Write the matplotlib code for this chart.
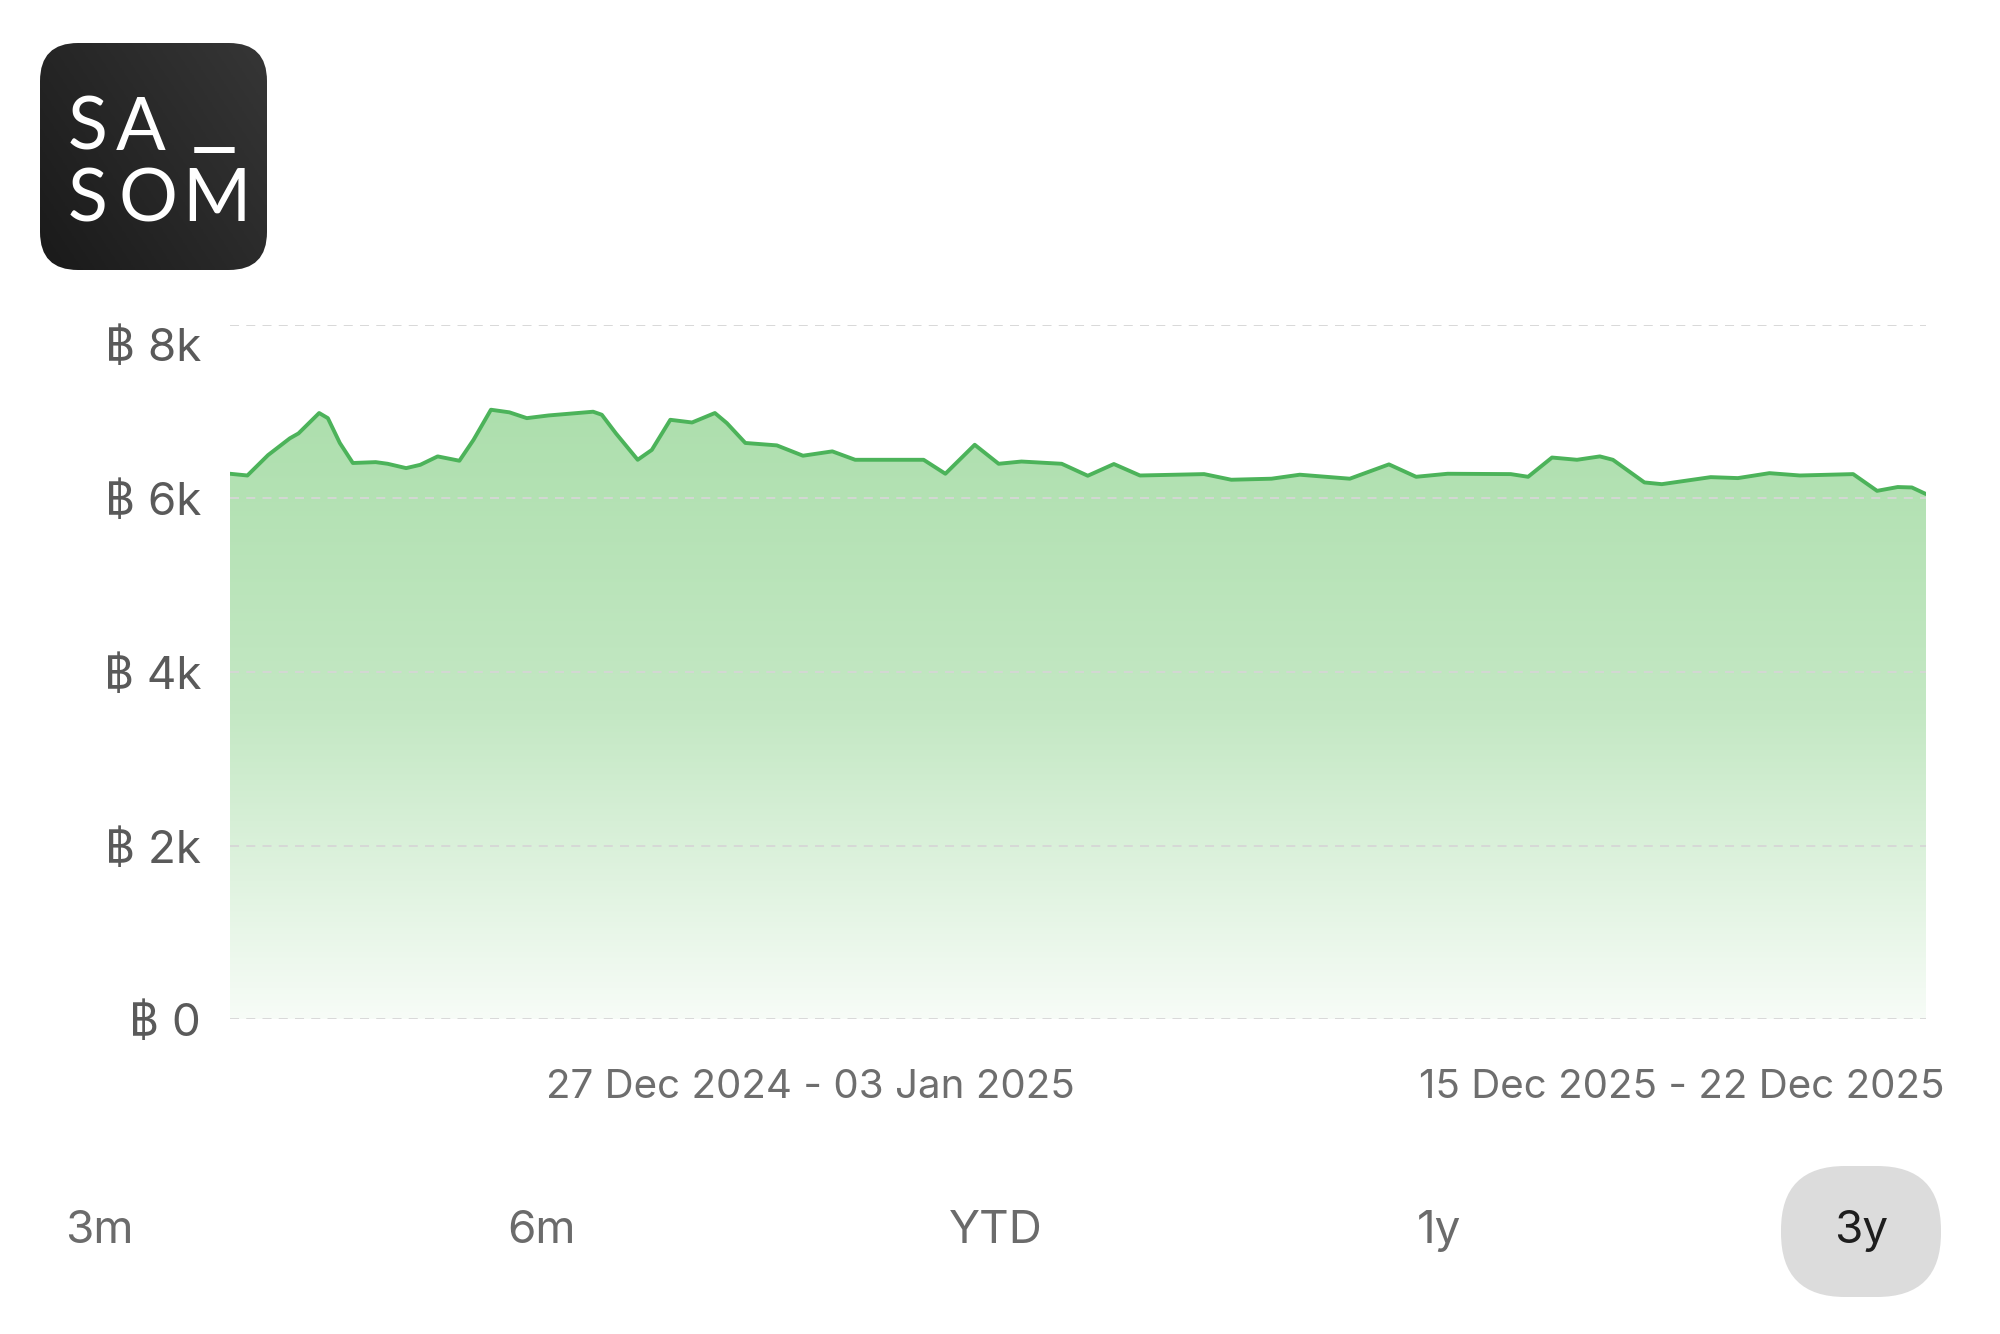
import numpy as np
import matplotlib
matplotlib.use('Agg')
import matplotlib.pyplot as plt
from matplotlib.patches import FancyBboxPatch, Polygon
from matplotlib.colors import LinearSegmentedColormap
from matplotlib.transforms import blended_transform_factory, offset_copy

plt.rcParams['font.family'] = ['Inter', 'DejaVu Sans']

# weeks since the start of the 3y window, price in baht
weeks = [0, 1.6, 3.5, 5.5, 6.3, 8.2, 9.0, 10.1, 11.3, 13.4, 14.5, 16.2, 17.5,
         19.1, 21.1, 22.4, 24.0, 25.7, 27.3, 29.3, 33.4, 34.2, 35.5, 37.5,
         38.8, 40.5, 42.5, 44.6, 45.7, 47.4, 50.3, 52.7, 55.4, 57.5, 63.8,
         65.8, 68.5, 70.7, 72.8, 76.5, 78.9, 81.3, 83.7, 89.6, 92.1, 95.8,
         98.4, 103.0, 106.6, 109.1, 112.0, 117.8, 119.4, 121.6, 123.9, 126.0,
         127.2, 130.1, 131.7, 136.2, 138.7, 141.6, 144.4, 149.3, 151.5, 153.4,
         154.7, 156]
price = [6285, 6265, 6500, 6693, 6750, 6985, 6926, 6640, 6409, 6419, 6400,
         6350, 6388, 6485, 6435, 6676, 7023, 6993, 6926, 6957, 7000, 6965,
         6750, 6446, 6560, 6907, 6876, 6985, 6869, 6640, 6612, 6493, 6543,
         6446, 6446, 6285, 6619, 6400, 6426, 6400, 6262, 6397, 6265, 6281,
         6216, 6228, 6274, 6228, 6393, 6250, 6285, 6281, 6250, 6472, 6446,
         6485, 6446, 6185, 6165, 6246, 6235, 6292, 6265, 6281, 6088, 6132,
         6127, 6051]

y_ticks = [0, 2000, 4000, 6000, 8000]
y_labels = ['฿ 0', '฿ 2k', '฿ 4k', '฿ 6k', '฿ 8k']
x_tick_weeks = [53.4, 133.5]
x_labels = ['27 Dec 2024 - 03 Jan 2025', '15 Dec 2025 - 22 Dec 2025']
ranges = ['3m', '6m', 'YTD', '1y', '3y']
active_range = '3y'

fig = plt.figure(figsize=(20, 13.34), dpi=100)
ax = fig.add_axes([0.115, 0.2361, 0.848, 0.5203])
ax.set_xlim(0, 156)
ax.set_ylim(0, 8000)

# gradient fill under the line
verts = list(zip(weeks, price)) + [(weeks[-1], 0), (weeks[0], 0)]
poly = Polygon(verts, closed=True, facecolor='none', edgecolor='none')
ax.add_patch(poly)
cmap = LinearSegmentedColormap.from_list('fillg', ['#f7fcf7', '#c4e8c4', '#addfad'])
grad = np.linspace(1, 0, 256).reshape(-1, 1)
im = ax.imshow(grad, cmap=cmap, extent=(weeks[0], weeks[-1], 0, max(price)),
               origin='upper', aspect='auto', zorder=1)
im.set_clip_path(poly)

ax.plot(weeks, price, color='#4cb35a', lw=2.8, zorder=3,
        solid_joinstyle='round', solid_capstyle='round')

ax.set_axisbelow(False)
ax.set_yticks(y_ticks)
ax.set_yticklabels([])
ax.yaxis.grid(True, color='#d6d6d6', lw=1.3, linestyle=(0, (5, 4)))
ax.set_xticks(x_tick_weeks)
ax.set_xticklabels(x_labels, fontsize=29, color='#6e6e6e')
ax.tick_params(axis='both', length=0)
ax.tick_params(axis='x', pad=36)
for s in ax.spines.values():
    s.set_visible(False)

# y labels, top one nudged down like the original
tr = blended_transform_factory(ax.transAxes, ax.transData)
for v, lab in zip(y_ticks, y_labels):
    dy = -24 if v == 8000 else -5
    t = offset_copy(tr, fig=fig, y=dy, units='dots')
    ax.text(-0.017, v, lab, transform=t, ha='right', va='center',
            fontsize=33, color='#5a5a5a')

# overlay in pixel coords for logo and range buttons
ov = fig.add_axes([0, 0, 1, 1])
ov.set_xlim(0, 2000)
ov.set_ylim(1334, 0)
ov.axis('off')
ov.patch.set_alpha(0)

logo = FancyBboxPatch((40, 43), 227, 227, boxstyle='round,pad=0,rounding_size=38',
                      facecolor='none', edgecolor='none')
ov.add_patch(logo)
gx, gy = np.meshgrid(np.linspace(0, 1, 100), np.linspace(0, 1, 100))
shade = 0.6 * gx + 0.4 * (1 - gy)
lcmap = LinearSegmentedColormap.from_list('logo', ['#1a1a1a', '#363636'])
lim = ov.imshow(shade, cmap=lcmap, extent=(40, 267, 270, 43), aspect='auto', zorder=1)
lim.set_clip_path(logo)
logo_kw = dict(fontsize=53, color='white', family='Lato', va='baseline', zorder=2)
for ch, x, y in [('S', 68, 150), ('A', 116, 150),
                 ('S', 68, 221), ('O', 118, 221), ('M', 182, 221)]:
    ov.text(x, y, ch, **logo_kw)
ov.text(195, 134, '_', fontsize=56, color='white', family='DejaVu Sans',
        va='baseline', zorder=2)

btn_x = [99, 541, 996, 1439, 1861]
for x, r in zip(btn_x, ranges):
    if r == active_range:
        ov.add_patch(FancyBboxPatch((x - 80, 1166), 160, 131,
                                    boxstyle='round,pad=0,rounding_size=64',
                                    facecolor='#dcdcdc', edgecolor='none'))
        c = '#1e1e1e'
    else:
        c = '#6b6b6b'
    ov.text(x, 1231, r, ha='center', va='center', fontsize=33, color=c, zorder=3)

fig.savefig('out.png', dpi=100, facecolor='white')
